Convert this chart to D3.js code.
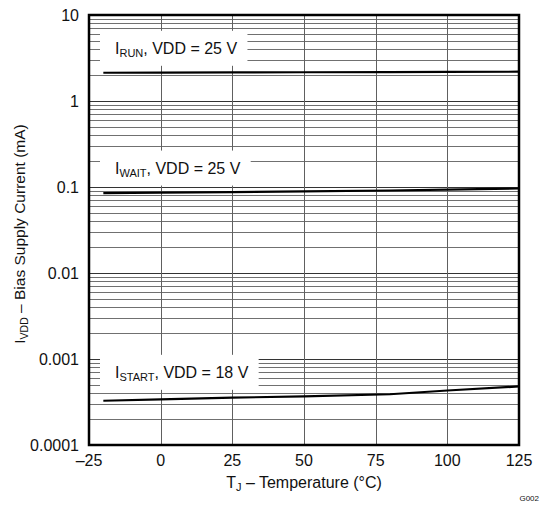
<!DOCTYPE html>
<html>
<head>
<meta charset="utf-8">
<title>IVDD vs temperature</title>
<script src="https://d3js.org/d3.v7.min.js"></script>
<style>
  body { margin: 0; background: #fff; }
  text { font-family: "Liberation Sans", Arial, Helvetica, sans-serif; fill: #111; }
</style>
</head>
<body>
<svg width="547" height="506"></svg>
<script>
// temperature points (°C)
var temps = [-20, 0, 25, 50, 80, 100, 125];
// bias supply current (mA)
var iRun   = [2.13, 2.14, 2.15, 2.16, 2.17, 2.18, 2.19];
var iWait  = [0.085, 0.086, 0.087, 0.089, 0.091, 0.093, 0.096];
var iStart = [0.000327, 0.00034, 0.000355, 0.000368, 0.000389, 0.00043, 0.00048];

var xTicks = [-25, 0, 25, 50, 75, 100, 125];
var yTicks = [0.0001, 0.001, 0.01, 0.1, 1, 10];
var yTickLabels = ["0.0001", "0.001", "0.01", "0.1", "1", "10"];

// labels: [main, subscript, rest, value at label centre]
var labels = [
  ["I", "RUN", ", VDD = 25 V", 4.1],
  ["I", "WAIT", ", VDD = 25 V", 0.166],
  ["I", "START", ", VDD = 18 V", 0.0007]
];

var svg = d3.select("svg"),
    margin = {left: 89, top: 15},
    w = 430, h = 430;

var g = svg.append("g").attr("transform", "translate(" + margin.left + "," + margin.top + ")");

var x = d3.scaleLinear().domain([-25, 125]).range([0, w]);
var y = d3.scaleLog().domain([0.0001, 10]).range([h, 0]);

// horizontal grid (all 1..9 per decade)
var minor = [];
yTicks.slice(0, -1).forEach(function(d) {
  for (var k = 1; k < 10; k++) minor.push(d * k);
});
g.append("g").selectAll("line").data(minor).enter().append("line")
    .attr("x1", 0).attr("x2", w)
    .attr("y1", function(d) { return Math.round(y(d)) + 0.5; })
    .attr("y2", function(d) { return Math.round(y(d)) + 0.5; })
    .attr("stroke", function(d) { return yTicks.indexOf(d) >= 0 ? "#333" : "#707070"; })
    .attr("stroke-width", 1);

// vertical grid
g.append("g").selectAll("line").data(xTicks.slice(1, -1)).enter().append("line")
    .attr("x1", function(d) { return Math.round(x(d)) + 0.5; })
    .attr("x2", function(d) { return Math.round(x(d)) + 0.5; })
    .attr("y1", 0).attr("y2", h)
    .attr("stroke", "#606060");

// label boxes
labels.forEach(function(l) {
  var lg = g.append("g");
  var t = lg.append("text")
      .attr("x", x(-25) + 26)
      .attr("y", y(l[3]))
      .attr("dy", "0.35em")
      .style("font-size", "16px");
  t.append("tspan").text(l[0]);
  t.append("tspan").text(l[1]).style("font-size", "11px").attr("dy", 3);
  t.append("tspan").text(l[2]).attr("dy", -3);
  var b = t.node().getBBox();
  lg.insert("rect", "text")
      .attr("x", b.x - 15).attr("y", y(l[3]) - 17.5)
      .attr("width", b.width + 25).attr("height", 35)
      .attr("fill", "#fff");
});

// data lines
var line = d3.line()
    .x(function(d, i) { return x(temps[i]); })
    .y(function(d) { return y(d); });

[iRun, iWait, iStart].forEach(function(s) {
  g.append("path").datum(s)
      .attr("d", line)
      .attr("fill", "none")
      .attr("stroke", "#000")
      .attr("stroke-width", 2.2);
});

// frame
g.append("rect").attr("x", 0).attr("y", 0).attr("width", w).attr("height", h)
    .attr("fill", "none").attr("stroke", "#000").attr("stroke-width", 2.5);

// x tick labels
g.append("g").selectAll("text").data(xTicks).enter().append("text")
    .attr("x", function(d) { return x(d); })
    .attr("y", h + 21)
    .attr("text-anchor", "middle")
    .style("font-size", "16px")
    .text(function(d) { return d < 0 ? "\u2013" + Math.abs(d) : d; });

// y tick labels
g.append("g").selectAll("text").data(yTicks).enter().append("text")
    .attr("x", -10)
    .attr("y", function(d) { return y(d); })
    .attr("dy", "0.35em")
    .attr("text-anchor", "end")
    .style("font-size", "16px")
    .text(function(d, i) { return yTickLabels[i]; });

// x title
var xt = svg.append("text")
    .attr("x", margin.left + w / 2)
    .attr("y", 488)
    .attr("text-anchor", "middle")
    .style("font-size", "16px");
xt.append("tspan").text("T");
xt.append("tspan").text("J").style("font-size", "11px").attr("dy", 3);
xt.append("tspan").text(" \u2013 Temperature (\u00b0C)").attr("dy", -3);

// y title
var yt = svg.append("text")
    .attr("transform", "translate(25,234) rotate(-90)")
    .attr("text-anchor", "middle")
    .style("font-size", "15.5px");
yt.append("tspan").text("I");
yt.append("tspan").text("VDD").style("font-size", "10.5px").attr("dy", 3);
yt.append("tspan").text(" \u2013 Bias Supply Current (mA)").attr("dy", -3);

// figure id
svg.append("text")
    .attr("x", 539).attr("y", 501)
    .attr("text-anchor", "end")
    .style("font-size", "8px")
    .text("G002");
</script>
</body>
</html>
